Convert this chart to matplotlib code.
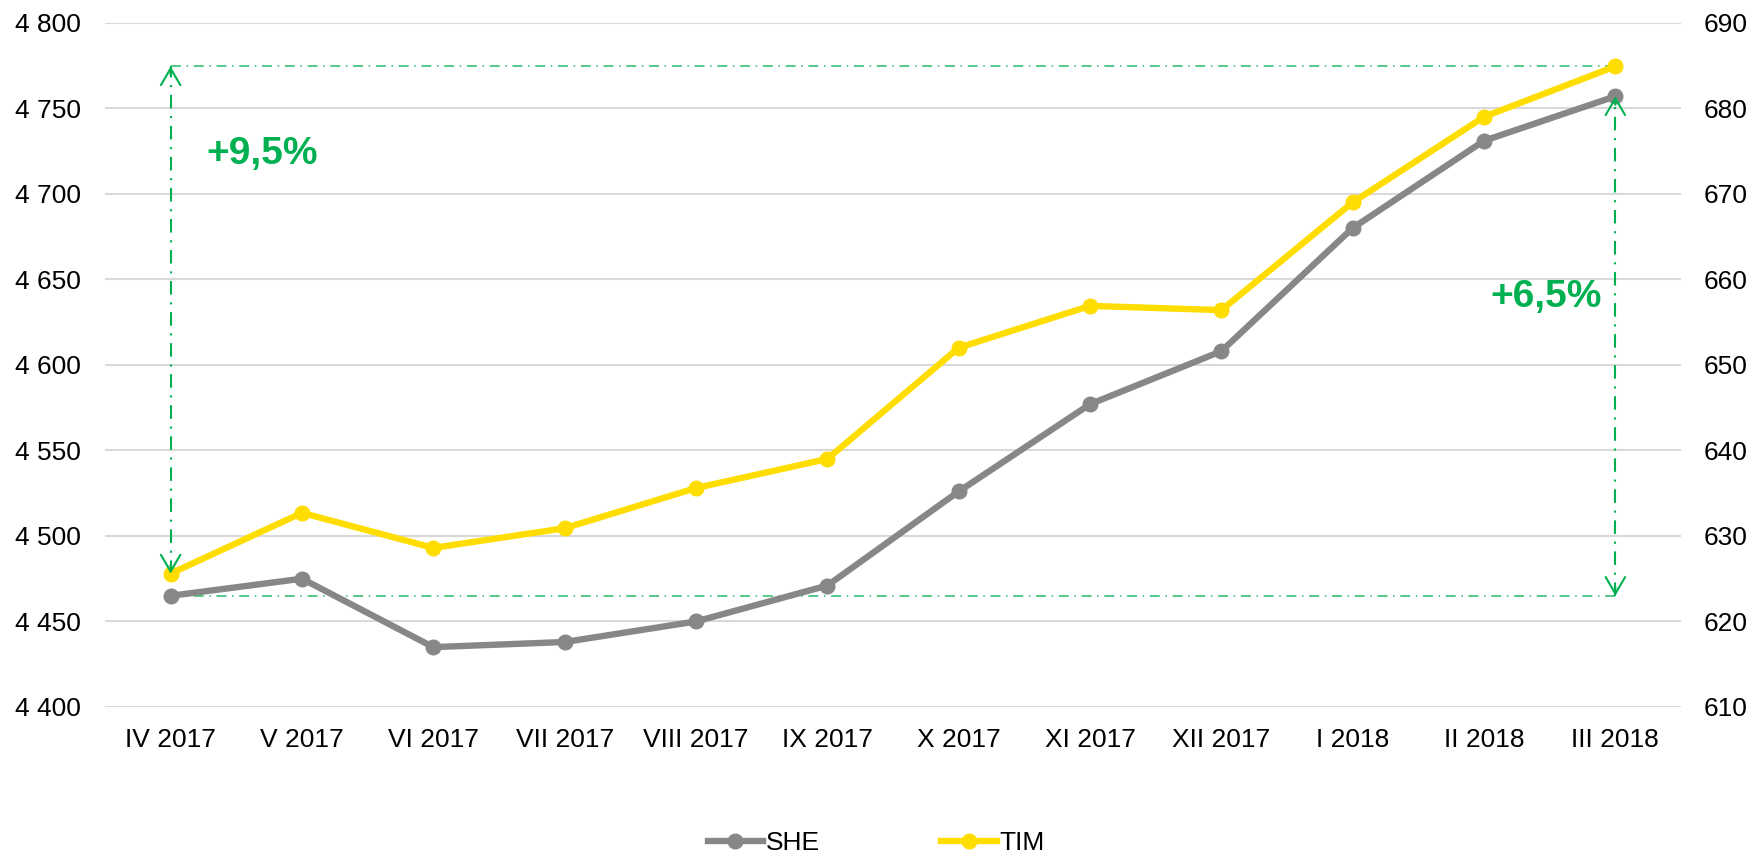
import matplotlib.pyplot as plt
from matplotlib.ticker import FuncFormatter

# Data
months = ['IV 2017', 'V 2017', 'VI 2017', 'VII 2017', 'VIII 2017', 'IX 2017',
          'X 2017', 'XI 2017', 'XII 2017', 'I 2018', 'II 2018', 'III 2018']
she = [4465, 4475, 4435, 4438, 4450, 4471, 4526, 4577, 4608, 4680, 4731, 4757]
tim = [625.6, 632.7, 628.6, 630.9, 635.6, 639.0, 652.0, 656.9, 656.4, 669.0, 679.0, 684.9]
she_change = '+6,5%'
tim_change = '+9,5%'

green = '#00B050'
gray = '#878787'
yellow = '#FFDD00'

plt.rcParams['font.family'] = ['Liberation Sans', 'DejaVu Sans']

fig = plt.figure(figsize=(17.52, 8.55), dpi=100)
ax = fig.add_axes([0.0599, 0.1731, 0.8996, 0.8003])
ax2 = ax.twinx()

x = list(range(len(months)))

ax.plot(x, she, color=gray, lw=4.6, marker='o', ms=10.5, label='SHE', zorder=3)
ax2.plot(x, tim, color=yellow, lw=4.6, marker='o', ms=10.5, label='TIM', zorder=3)

ax.set_xlim(-0.5, len(months) - 0.5)
ax.set_ylim(4400, 4800)
ax2.set_ylim(610, 690)
ax.set_yticks(range(4400, 4801, 50))
ax2.set_yticks(range(610, 691, 10))
ax.yaxis.set_major_formatter(FuncFormatter(lambda v, p: f'{v:,.0f}'.replace(',', ' ')))
ax.set_xticks(x)
ax.set_xticklabels(months)

ax.grid(axis='y', color='#D9D9D9', lw=1.5)
ax.set_axisbelow(True)
for a in (ax, ax2):
    for s in a.spines.values():
        s.set_visible(False)
ax.tick_params(axis='both', length=0, labelsize=19, colors='black')
ax.tick_params(axis='y', pad=17)
ax.tick_params(axis='x', pad=15)
ax2.tick_params(axis='y', length=0, labelsize=19, pad=16)

# change annotations
dash = (0, (6.5, 3.7, 1, 3.7))
head = dict(arrowstyle='->, head_length=0.6, head_width=0.35', color=green,
            lw=1.5, mutation_scale=20, shrinkA=0, shrinkB=0)

# TIM: from first value up to last value level (right axis)
ax2.plot([0, 11], [tim[-1], tim[-1]], color=green, lw=1.1, ls=dash, alpha=0.85)
ax2.plot([0, 0], [tim[0], tim[-1]], color=green, lw=1.5, ls=dash)
ax2.annotate('', xy=(0, tim[-1]), xytext=(0, tim[-1] - 1), arrowprops=head)
ax2.annotate('', xy=(0, tim[0]), xytext=(0, tim[0] + 1), arrowprops=head)
ax2.text(0.7, 674.6, tim_change, color=green, fontsize=28, fontweight='bold',
         ha='center', va='center')

# SHE: from first value level up to last value (left axis)
ax.plot([0, 11], [she[0], she[0]], color=green, lw=1.1, ls=dash, alpha=0.85)
ax.plot([11, 11], [she[0], she[-1]], color=green, lw=1.5, ls=dash)
ax.annotate('', xy=(11, she[-1]), xytext=(11, she[-1] - 5), arrowprops=head)
ax.annotate('', xy=(11, she[0]), xytext=(11, she[0] + 5), arrowprops=head)
ax.text(10.47, 4639.6, she_change, color=green, fontsize=28, fontweight='bold',
        ha='center', va='center')

h1, l1 = ax.get_legend_handles_labels()
h2, l2 = ax2.get_legend_handles_labels()
fig.legend(h1 + h2, l1 + l2, loc='center', bbox_to_anchor=(0.5, 0.014), ncol=2,
           frameon=False, fontsize=19, handlelength=2.1, columnspacing=4.6,
           handletextpad=0.1, borderpad=0)

fig.savefig('out.png', dpi=100)
